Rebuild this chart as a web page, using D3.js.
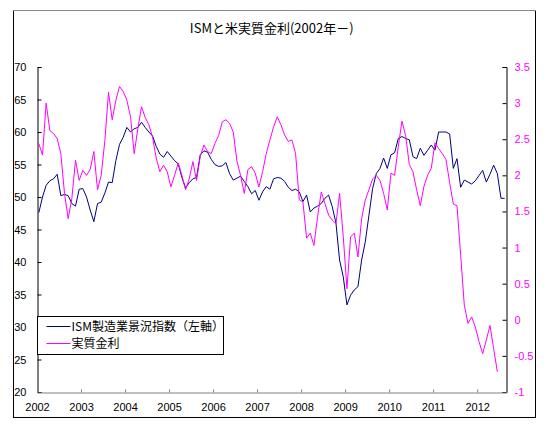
<!DOCTYPE html>
<html><head><meta charset="utf-8">
<script src="https://cdn.jsdelivr.net/npm/d3@7"></script>
<style>body{margin:0;background:#fff}svg{display:block}</style>
</head><body><svg id="c" width="550" height="437"></svg>
<script>
const title = "ISMと米実質金利(2002年－)";
const seriesNames = ["ISM製造業景況指数（左軸）", "実質金利"];
const years = ["2002","2003","2004","2005","2006","2007","2008","2009","2010","2011","2012"];
const leftTicks = [20,25,30,35,40,45,50,55,60,65,70];
const rightTicks = [-1,-0.5,0,0.5,1,1.5,2,2.5,3,3.5];
const monthsOnAxis = 128;
// monthly, Jan 2002 onward
const ism = [
 47.6,50.0,51.8,52.5,52.8,53.5,50.2,50.4,50.2,49.0,
 48.6,51.2,51.3,50.0,48.0,46.2,49.0,49.2,50.6,52.3,
 52.2,55.6,58.1,59.2,60.7,60.0,60.5,60.7,61.5,60.7,
 60.0,59.4,57.8,56.6,56.1,57.0,56.3,55.6,55.1,53.0,
 51.4,52.2,52.8,53.0,56.5,57.1,56.9,55.8,55.0,54.7,
 54.8,55.3,53.6,52.6,52.9,53.2,52.4,51.6,50.5,51.0,
 49.5,50.8,51.6,51.2,
 52.8,53.0,52.9,52.4,51.5,51.0,51.2,50.8,49.3,50.3,47.7,48.3,48.6,49.0,49.8,50.3,
 48.5,46.0,40.3,37.7,33.4,34.9,35.7,36.2,40.3,43.1,47.2,51.3,53.6,54.4,56.0,54.4,56.5,56.8,59.0,59.3,
 59.0,58.8,56.2,55.9,57.5,56.4,57.2,58.0,57.2,60.0,60.0,60.0,59.7,54.4,55.9,51.5,52.6,52.3,52.0,52.5,
 53.3,54.1,52.3,53.5,54.9,53.6,49.8,49.8
];
const realRate = [
 2.44,2.28,3.00,2.62,2.58,2.51,2.30,1.75,1.40,1.68,
 2.21,1.93,2.07,2.00,2.08,2.33,1.80,2.00,2.48,3.15,
 2.77,3.04,3.23,3.16,3.04,2.81,2.30,2.65,2.95,2.80,
 2.70,2.53,2.24,2.05,2.14,2.05,1.84,2.00,2.17,2.00,
 1.80,1.95,2.19,1.93,2.26,2.42,2.33,2.30,2.44,2.55,
 2.74,2.77,2.72,2.60,2.20,2.00,1.75,2.08,2.12,2.03,
 1.84,2.05,2.30,2.49,2.67,2.81,2.70,2.56,2.47,2.49,
 2.30,1.66,1.63,1.13,1.20,1.03,1.43,1.77,1.61,1.45,
 1.38,1.33,1.75,1.15,0.43,1.15,1.20,0.87,1.40,1.66,
 1.80,1.95,2.00,1.93,1.75,1.52,2.03,2.00,2.40,2.75,
 2.55,2.15,2.05,1.80,1.58,1.85,2.00,2.10,2.45,2.37,
 2.30,2.22,1.90,1.60,1.58,0.90,0.20,-0.05,0.04,-0.10,
 -0.30,-0.47,-0.28,-0.08,-0.40,-0.72
];

const svg = d3.select("#c");
const P = {l:37, r:506.5, t:67, b:392};
const x = d3.scaleLinear().domain([0, monthsOnAxis]).range([P.l, P.r]);
const yL = d3.scaleLinear().domain([20,70]).range([P.b, P.t]);
const yR = d3.scaleLinear().domain([-1,3.5]).range([P.b, P.t]);
const numFont = "'Liberation Sans', Arial, sans-serif";
const jpFont = "'Noto Sans CJK JP', sans-serif";

// outer frame
svg.append("rect").attr("x",13.5).attr("y",10.5).attr("width",522).attr("height",407)
  .attr("fill","#fff").attr("stroke","#000").attr("stroke-width",1);
svg.append("line").attr("x1",13).attr("x2",536).attr("y1",10.5).attr("y2",10.5).attr("stroke","#888");

// title
svg.append("text").attr("x",(P.l+P.r)/2).attr("y",33).attr("text-anchor","middle")
  .attr("font-family",jpFont).attr("font-size",13).attr("fill","#000").text(title);

// left axis
const gL = svg.append("g").attr("transform",`translate(${P.l+0.5},0)`)
  .call(d3.axisLeft(yL).tickValues(leftTicks).tickSize(-4).tickPadding(11).tickFormat(d3.format("d")));
gL.select(".domain").attr("stroke","#000");
gL.selectAll(".tick line").attr("stroke","#000");
gL.selectAll("text").attr("font-family",numFont).attr("font-size",11).attr("fill","#000");

// right axis
const gR = svg.append("g").attr("transform",`translate(${P.r},0)`)
  .call(d3.axisRight(yR).tickValues(rightTicks).tickSize(-4).tickPadding(8).tickFormat(d => String(d)));
gR.select(".domain").attr("stroke","#000");
gR.selectAll(".tick line").attr("stroke","#000");
gR.selectAll("text").attr("font-family",numFont).attr("font-size",11).attr("fill","#ff00ff");

// bottom axis
const yearPos = years.map((y,k) => k*12);
const gB = svg.append("g").attr("transform",`translate(0,${P.b+0.5})`)
  .call(d3.axisBottom(x).tickValues(yearPos).tickSize(-3).tickPadding(11).tickFormat((d,k) => years[k]));
gB.select(".domain").attr("stroke","#808080");
gB.selectAll(".tick line").attr("stroke","#808080");
gB.selectAll("text").attr("font-family",numFont).attr("font-size",11).attr("fill","#000");

// lines
const lineL = d3.line().x((d,i) => x(i+0.5)).y(d => yL(d));
const lineR = d3.line().x((d,i) => x(i+0.5)).y(d => yR(d));
svg.append("path").datum(ism).attr("d",lineL).attr("fill","none").attr("stroke","#000080").attr("stroke-width",1);
svg.append("path").datum(realRate).attr("d",lineR).attr("fill","none").attr("stroke","#ff00ff").attr("stroke-width",1);

// legend
const lg = svg.append("g").attr("transform","translate(37.5,316.5)");
lg.append("rect").attr("width",186).attr("height",38).attr("fill","#fff").attr("stroke","#000");
const colors = ["#000080","#ff00ff"];
seriesNames.forEach((name,k) => {
  const yy = 10 + k*17;
  lg.append("line").attr("x1",9).attr("x2",33).attr("y1",yy).attr("y2",yy).attr("stroke",colors[k]);
  lg.append("text").attr("x",34).attr("y",yy+4.5).attr("font-family",jpFont).attr("font-size",12)
    .attr("fill","#000").text(name);
});
</script>
</body></html>
